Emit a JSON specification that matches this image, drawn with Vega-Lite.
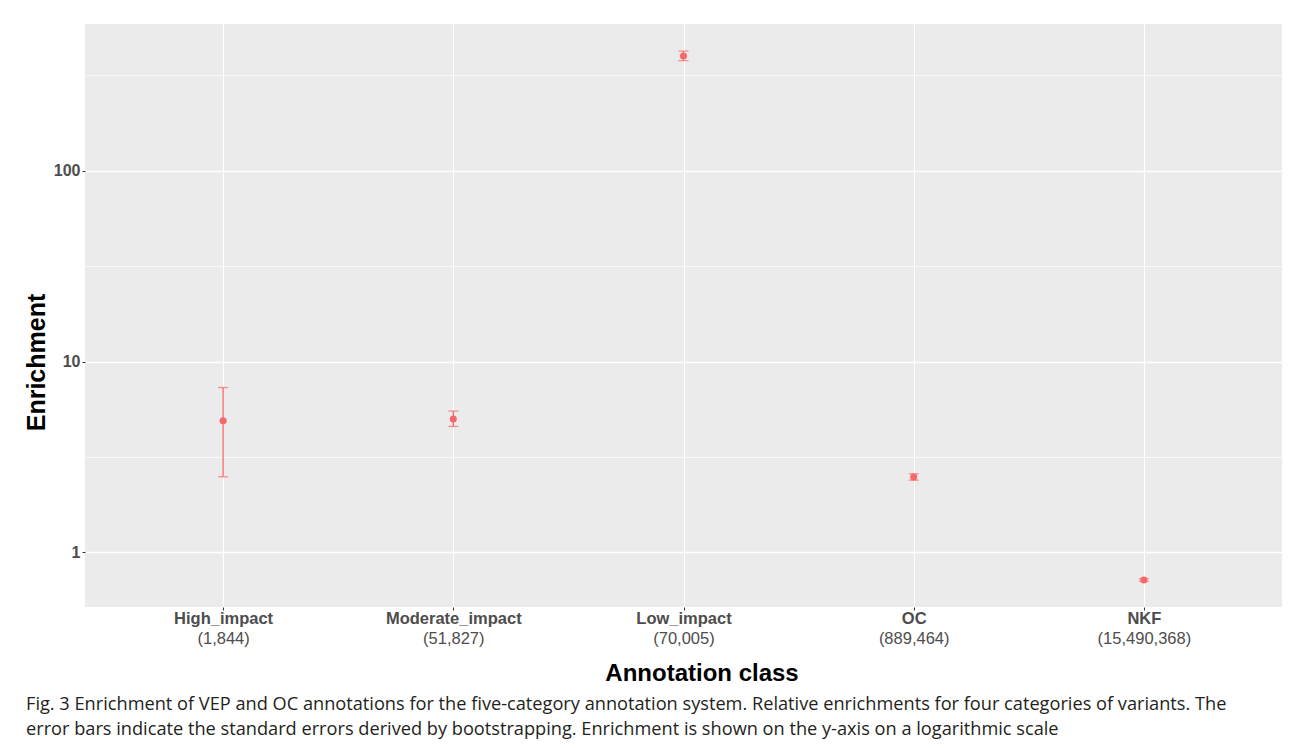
{
  "$schema": "https://vega.github.io/schema/vega-lite/v6.json",
  "width": 1197,
  "height": 583,
  "autosize": {"type": "none"},
  "padding": {"left": 85, "top": 24, "right": 13, "bottom": 142},
  "background": "white",
  "data": {
    "values": [
      {"cls": "High_impact|(1,844)", "enrichment": 4.89, "lo": 2.49, "hi": 7.31},
      {"cls": "Moderate_impact|(51,827)", "enrichment": 5.0, "lo": 4.57, "hi": 5.5},
      {"cls": "Low_impact|(70,005)", "enrichment": 400, "lo": 378, "hi": 424},
      {"cls": "OC|(889,464)", "enrichment": 2.48, "lo": 2.39, "hi": 2.58},
      {"cls": "NKF|(15,490,368)", "enrichment": 0.716, "lo": 0.705, "hi": 0.727}
    ]
  },
  "title": {
    "text": [
      "Fig. 3  Enrichment of VEP and OC annotations for the five-category annotation system. Relative enrichments for four categories of variants. The",
      "error bars indicate the standard errors derived by bootstrapping. Enrichment is shown on the y-axis on a logarithmic scale"
    ],
    "orient": "bottom",
    "anchor": "start",
    "frame": "group",
    "dx": -59,
    "offset": 10,
    "font": "Open Sans",
    "fontSize": 18.2,
    "fontWeight": "normal",
    "color": "#231F20",
    "lineHeight": 25
  },
  "config": {
    "view": {"fill": "#EBEBEB", "stroke": null},
    "axis": {
      "domain": false,
      "gridColor": "white",
      "tickColor": "#333333",
      "tickSize": 3,
      "labelColor": "#4D4D4D",
      "labelFont": "Liberation Sans",
      "titleFont": "Liberation Sans",
      "titleColor": "black",
      "titleFontWeight": "bold"
    }
  },
  "resolve": {"axis": {"x": "independent"}},
  "layer": [
    {
      "mark": {"type": "rule", "color": "#F8666B", "strokeWidth": 1.3},
      "encoding": {
        "x": {
          "field": "cls",
          "type": "nominal",
          "sort": null,
          "scale": {"type": "point", "padding": 0.6},
          "axis": {
            "orient": "bottom",
            "title": null,
            "grid": true,
            "gridWidth": 1.1,
            "labelExpr": "split(datum.value, '|')[0]",
            "labelAngle": 0,
            "labelFontSize": 16.5,
            "labelFontWeight": "bold",
            "labelPadding": 0
          }
        },
        "y": {
          "field": "lo",
          "type": "quantitative",
          "scale": {"type": "log", "domain": [0.517, 588], "nice": false, "zero": false},
          "axis": {
            "title": "Enrichment",
            "titleFontSize": 25,
            "titleX": -49,
            "titleY": 338,
            "titleBaseline": "middle",
            "values": [0.3162, 1, 3.162, 10, 31.62, 100, 316.2],
            "labelExpr": "datum.value == 1 || datum.value == 10 || datum.value == 100 ? datum.label : ''",
            "labelFontSize": 16,
            "labelFontWeight": "bold",
            "labelPadding": 2,
            "gridWidth": {"condition": {"test": "datum.value == 1 || datum.value == 10 || datum.value == 100", "value": 1.4}, "value": 0.7},
            "tickOpacity": {"condition": {"test": "datum.value == 1 || datum.value == 10 || datum.value == 100", "value": 1}, "value": 0}
          }
        },
        "y2": {"field": "hi"}
      }
    },
    {
      "mark": {"type": "tick", "color": "#F8666B", "size": 10, "thickness": 1.3},
      "encoding": {
        "x": {"field": "cls", "type": "nominal", "sort": null, "axis": null},
        "y": {"field": "lo", "type": "quantitative"}
      }
    },
    {
      "mark": {"type": "tick", "color": "#F8666B", "size": 10, "thickness": 1.3},
      "encoding": {
        "x": {"field": "cls", "type": "nominal", "sort": null, "axis": null},
        "y": {"field": "hi", "type": "quantitative"}
      }
    },
    {
      "mark": {"type": "point", "filled": true, "color": "#F8666B", "opacity": 1, "size": 50},
      "encoding": {
        "x": {
          "field": "cls",
          "type": "nominal",
          "sort": null,
          "axis": {
            "orient": "bottom",
            "title": "Annotation class",
            "titleFontSize": 24,
            "titleX": 616.5,
            "titlePadding": 15,
            "grid": false,
            "ticks": false,
            "labelExpr": "split(datum.value, '|')[1]",
            "labelAngle": 0,
            "labelFontSize": 16.5,
            "labelFontWeight": "normal",
            "labelPadding": 23
          }
        },
        "y": {"field": "enrichment", "type": "quantitative"}
      }
    }
  ]
}
